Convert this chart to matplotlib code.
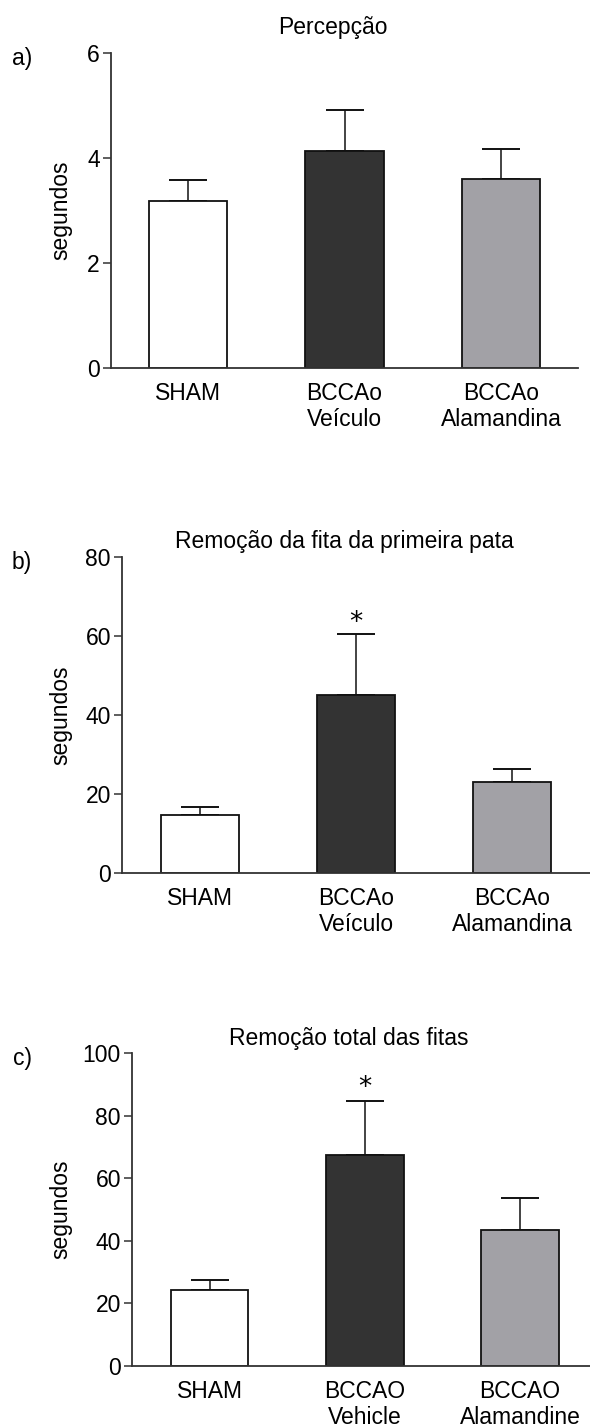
import matplotlib.pyplot as plt
import numpy as np

plt.rcParams['font.family'] = ['Liberation Sans', 'DejaVu Sans']

# Dados (média e topo da barra de erro)
labels_pt = ["SHAM", "BCCAo\nVeículo", "BCCAo\nAlamandina"]
labels_en = ["SHAM", "BCCAO\nVehicle", "BCCAO\nAlamandine"]

percepcao = [3.18, 4.14, 3.60]
percepcao_err = [0.41, 0.78, 0.58]

primeira_pata = [14.7, 45.0, 23.0]
primeira_pata_err = [2.0, 15.6, 3.4]

total_fitas = [24.2, 67.5, 43.4]
total_fitas_err = [3.4, 17.2, 10.3]

signif_b = [False, True, False]
signif_c = [False, True, False]

colors = ["#ffffff", "#333333", "#a2a1a6"]
W, H = 590, 1427
FS = 16.5


def painel(rect, labels, vals, errs, ylim, yticks, title, letra, signif, xlim,
           star_off, title_pad):
    l, t, r, b = rect
    ax = fig.add_axes([l / W, (H - b) / H, (r - l) / W, (b - t) / H])
    x = np.arange(len(vals))
    ax.bar(x, vals, width=0.5, color=colors, edgecolor="#111111", linewidth=1.3, zorder=2)
    ax.errorbar(x, vals, yerr=[np.zeros(len(errs)), errs], fmt="none", ecolor="#111111",
                elinewidth=1.1, capsize=14, capthick=1.4, zorder=1)
    for xi, v, e, s in zip(x, vals, errs, signif):
        if s:
            ax.text(xi, v + e + star_off, "*", ha="center", va="center", fontsize=19,
                    family="DejaVu Sans")
    ax.set_xlim(*xlim)
    ax.set_ylim(*ylim)
    ax.set_yticks(yticks)
    ax.set_xticks(x)
    ax.set_xticklabels(labels, fontsize=FS, linespacing=1.2)
    ax.tick_params(axis="x", length=0, pad=10)
    ax.tick_params(axis="y", length=6, width=1.1, labelsize=FS, pad=2, color="#333333")
    for s in ["top", "right"]:
        ax.spines[s].set_visible(False)
    for s in ["left", "bottom"]:
        ax.spines[s].set_linewidth(1.3)
        ax.spines[s].set_color("#333333")
    ax.set_ylabel("segundos", fontsize=FS)
    ax.yaxis.set_label_coords((72 - l) / (r - l), 0.5)
    ax.set_title(title, fontsize=FS, pad=title_pad, x=0.5 - 12 / (r - l))
    fig.text(22 / W, 1 - (t + 5) / H, letra, fontsize=FS, ha="center", va="center")
    return ax


fig = plt.figure(figsize=(5.9, 14.27), dpi=100)

painel((111, 53, 578, 368), labels_pt, percepcao, percepcao_err, (0, 6), [0, 2, 4, 6],
       "Percepção", "a)", [False] * 3, (-0.49, 2.49), 0, 14)
painel((122, 557, 590, 873), labels_pt, primeira_pata, primeira_pata_err, (0, 80),
       [0, 20, 40, 60, 80], "Remoção da fita da primeira pata", "b)", signif_b,
       (-0.5, 2.5), 2.8, 6.5)
painel((132, 1053, 590, 1366), labels_en, total_fitas, total_fitas_err, (0, 100),
       [0, 20, 40, 60, 80, 100], "Remoção total das fitas", "c)", signif_c,
       (-0.5, 2.45), 4.0, 6)

fig.savefig("out.png", dpi=100)
